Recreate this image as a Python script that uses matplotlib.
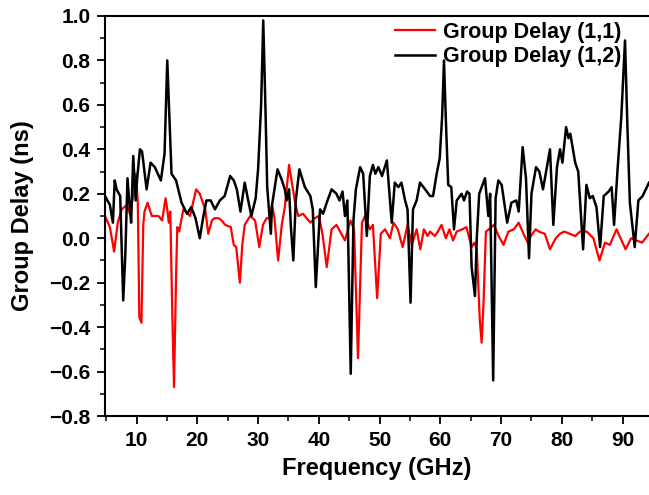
import matplotlib
matplotlib.use("Agg")
import matplotlib.pyplot as plt
from matplotlib.ticker import MultipleLocator

plt.rcParams['font.family'] = ['Liberation Sans', 'DejaVu Sans']
plt.rcParams['font.weight'] = 'bold'

# Group Delay (1,1) - red
gd11_freq = [4.8, 5.6, 6.3, 6.9, 7.55, 8.4, 8.9, 9.45, 9.9, 10.2, 10.45, 10.8, 11.1, 11.3, 11.8,
             12.5, 13.6, 14.2, 14.77, 15.1, 15.3, 15.55, 15.9, 16.16, 16.5, 16.7, 17.0, 17.7, 18.8,
             19.8, 20.4, 21.3, 21.8, 22.4, 22.8, 23.5, 24.0, 24.6, 25.5, 26.0, 26.4, 27.0, 27.4,
             27.8, 28.7, 29.5, 30.2, 30.8, 31.4, 31.9, 32.3, 32.7, 33.3, 33.9, 34.4, 35.1, 35.5,
             36.1, 36.6, 37.4, 38.6, 39.3, 40.0, 40.6, 41.3, 42.1, 42.9, 43.7, 44.3, 45.2, 45.8,
             46.45, 47.1, 47.6, 48.4, 48.9, 49.6, 50.2, 50.9, 51.7, 52.3, 53.0, 53.8, 54.6, 55.3,
             56.1, 56.7, 57.3, 57.9, 58.3, 59.1, 59.6, 60.2, 60.9, 61.5, 62.1, 62.7, 63.6, 64.3,
             65.15, 65.6, 66.0, 66.5, 66.8, 67.1, 67.5, 68.0, 68.8, 69.6, 70.4, 71.2, 72.1, 72.9,
             73.85, 74.4, 74.9, 75.7, 76.2, 77.2, 78.05, 79.0, 79.7, 80.4, 81.3, 82.2, 83.0, 84.1,
             85.2, 86.2, 87.1, 87.9, 89.0, 90.5, 91.4, 92.3, 93.2, 94.35]
gd11_val = [0.10, 0.05, -0.06, 0.07, 0.13, 0.15, 0.11, 0.19, 0.29, 0.16, -0.355, -0.38, 0.06, 0.12, 0.16,
            0.10, 0.10, 0.08, 0.18, 0.12, 0.07, 0.12, -0.37, -0.67, -0.17, 0.05, 0.03, 0.13, 0.10,
            0.22, 0.20, 0.13, 0.02, 0.08, 0.09, 0.09, 0.08, 0.06, 0.05, -0.03, -0.04, -0.20, -0.03,
            0.06, 0.10, 0.08, -0.04, 0.06, 0.09, 0.09, 0.15, 0.09, -0.10, 0.06, 0.14, 0.33, 0.26,
            0.16, 0.10, 0.11, 0.07, 0.09, 0.10, 0.02, -0.13, 0.04, 0.06, 0.02, -0.01, 0.08, 0.04,
            -0.54, 0.07, 0.10, 0.04, 0.06, -0.27, 0.02, 0.04, 0.00, 0.07, 0.04, -0.04, 0.06, -0.03,
            0.04, -0.05, 0.04, 0.01, 0.03, 0.01, 0.03, 0.06, 0.00, 0.04, -0.01, 0.03, 0.04, 0.05,
            -0.04, -0.02, -0.05, -0.37, -0.47, -0.30, 0.03, 0.04, 0.06, 0.01, -0.03, 0.03, 0.04, 0.07,
            0.01, -0.02, 0.01, 0.04, 0.03, 0.02, -0.05, 0.00, 0.02, 0.03, 0.02, 0.01, 0.03, 0.03,
            0.00, -0.10, -0.02, -0.03, 0.04, -0.05, 0.00, -0.01, -0.02, 0.02]

# Group Delay (1,2) - black
gd12_freq = [4.8, 5.6, 6.1, 6.4, 6.7, 7.3, 7.8, 8.15, 8.5, 8.8, 9.1, 9.45, 9.85, 10.1, 10.55, 10.9,
             11.65, 12.3, 13.0, 14.0, 14.6, 15.05, 15.4, 15.75, 16.5, 17.4, 18.3, 19.0, 19.7, 20.4,
             21.0, 21.5, 22.2, 22.9, 23.7, 24.5, 25.4, 26.0, 26.5, 27.1, 27.8, 28.3, 28.9, 29.6,
             30.0, 30.5, 30.85, 31.2, 31.5, 32.1, 32.3, 33.2, 33.8, 34.4, 34.7, 35.1, 35.4, 35.8,
             36.2, 36.8, 37.7, 38.6, 39.0, 39.5, 40.2, 40.7, 41.3, 42.1, 42.9, 43.4, 43.9, 44.3,
             44.7, 45.25, 45.7, 46.1, 46.8, 47.3, 47.9, 48.4, 48.9, 49.3, 49.8, 50.4, 51.2, 52.0,
             52.5, 53.1, 53.6, 54.2, 54.6, 55.1, 55.5, 56.1, 56.65, 57.5, 58.3, 58.8, 59.4, 59.9,
             60.3, 60.6, 60.95, 61.3, 61.8, 62.25, 62.7, 63.5, 63.9, 64.4, 64.8, 65.15, 65.7, 66.0,
             66.4, 67.35, 67.9, 68.2, 68.7, 69.1, 69.55, 70.1, 71.0, 71.7, 72.5, 72.9, 73.55, 74.1,
             74.6, 75.0, 75.75, 76.3, 76.9, 78.05, 78.6, 79.2, 79.7, 80.1, 80.7, 81.1, 81.4, 82.2,
             82.7, 83.5, 84.05, 84.6, 85.1, 85.7, 86.3, 86.9, 87.7, 88.2, 88.6, 89.2, 89.8, 90.4,
             90.8, 91.2, 92.0, 92.6, 93.3, 94.35]
gd12_val = [0.19, 0.15, 0.07, 0.26, 0.22, 0.19, -0.28, -0.07, 0.27, 0.16, 0.07, 0.37, 0.17, 0.27, 0.40, 0.39,
            0.22, 0.34, 0.32, 0.26, 0.38, 0.80, 0.55, 0.29, 0.26, 0.16, 0.11, 0.14, 0.09, 0.00,
            0.10, 0.17, 0.17, 0.13, 0.17, 0.19, 0.28, 0.26, 0.22, 0.12, 0.25, 0.18, 0.10, 0.18,
            0.31, 0.60, 0.98, 0.60, 0.23, 0.02, 0.15, 0.31, 0.27, 0.22, 0.17, 0.22, 0.05, -0.10,
            0.17, 0.31, 0.23, 0.19, 0.13, -0.22, 0.13, 0.11, 0.16, 0.22, 0.20, 0.17, 0.21, 0.10,
            0.17, -0.61, 0.08, 0.22, 0.32, 0.29, 0.01, 0.28, 0.33, 0.29, 0.32, 0.28, 0.35, 0.07,
            0.25, 0.23, 0.25, 0.17, 0.13, -0.29, 0.13, 0.17, 0.25, 0.22, 0.19, 0.19, 0.29, 0.36,
            0.55, 0.80, 0.50, 0.24, 0.23, 0.04, 0.17, 0.20, 0.17, 0.21, 0.20, -0.13, -0.26, 0.00,
            0.20, 0.27, 0.10, 0.20, -0.64, 0.18, 0.26, 0.24, 0.07, 0.16, 0.17, 0.12, 0.41, 0.27,
            -0.09, 0.20, 0.32, 0.30, 0.22, 0.40, 0.06, 0.32, 0.40, 0.34, 0.50, 0.45, 0.47, 0.34,
            0.30, -0.05, 0.24, 0.18, 0.19, 0.14, -0.04, 0.19, 0.21, 0.23, 0.06, 0.32, 0.55, 0.89,
            0.50, 0.16, -0.04, 0.17, 0.19, 0.25]

x_ticks = [10, 20, 30, 40, 50, 60, 70, 80, 90]
y_ticks = [-0.8, -0.6, -0.4, -0.2, 0.0, 0.2, 0.4, 0.6, 0.8, 1.0]

fig = plt.figure(figsize=(6.49, 4.95), dpi=100)
ax = fig.add_axes([105 / 649, 1 - 416 / 495, 544 / 649, 400 / 495])

ax.plot(gd11_freq, gd11_val, color='#ff0000', lw=1.6, label='Group Delay (1,1)')
ax.plot(gd12_freq, gd12_val, color='black', lw=1.8, label='Group Delay (1,2)')

ax.set_xlim(4.8, 94.35)
ax.set_ylim(-0.8, 1.0)
ax.set_xticks(x_ticks)
ax.set_yticks(y_ticks)
ax.set_yticklabels([f"{v:.1f}".replace('-', '\u2212') for v in y_ticks])
ax.xaxis.set_minor_locator(MultipleLocator(5))
ax.yaxis.set_minor_locator(MultipleLocator(0.1))

ax.spines['right'].set_visible(False)
for s in ['left', 'bottom', 'top']:
    ax.spines[s].set_linewidth(1.5)
ax.tick_params(which='major', direction='out', length=5.5, width=1.3, labelsize=15, pad=5,
               top=False, right=False)
ax.tick_params(which='minor', direction='out', length=3.5, width=1.1, top=False, right=False)
for lab in ax.get_xticklabels() + ax.get_yticklabels():
    lab.set_fontweight('bold')

ax.set_xlabel('Frequency (GHz)', fontsize=17, fontweight='bold', labelpad=5)
ax.set_ylabel('Group Delay (ns)', fontsize=17, fontweight='bold', labelpad=11)

leg = ax.legend(loc='upper left', bbox_to_anchor=((395 - 105) / 544, 0.985), frameon=False,
                prop={'size': 15.5, 'weight': 'bold'}, handlelength=1.86,
                handletextpad=0.37, labelspacing=0.15, borderaxespad=0.0, borderpad=0.0)

fig.savefig('out.png', dpi=100)
